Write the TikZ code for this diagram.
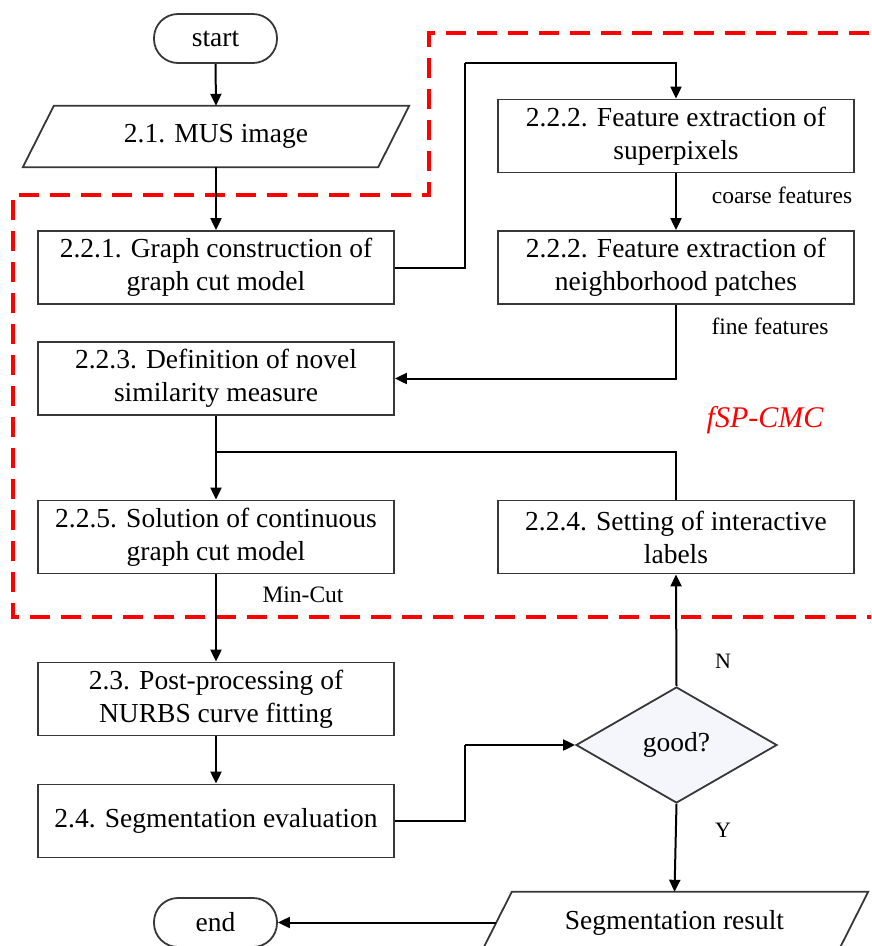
\documentclass[tikz,border=0pt]{standalone}
\usepackage{fontspec}
\setmainfont{Liberation Serif}
\usetikzlibrary{arrows.meta,shapes.geometric,calc}
\definecolor{boxgray}{RGB}{55,55,55}
\definecolor{dashred}{RGB}{255,0,0}
\definecolor{dfill}{RGB}{244,246,251}
\begin{document}
\begin{tikzpicture}[x=1pt,y=-1pt,
  mainfont/.style={font=\fontsize{27.5}{33}\selectfont},
  box/.style={draw=boxgray, line width=1.8pt, minimum width=356pt, minimum height=73pt, inner sep=0pt, align=center, mainfont},
  term/.style={draw=boxgray, line width=1.8pt, rounded corners=24pt, minimum width=123pt, minimum height=49pt, inner sep=0pt, mainfont},
  iobox/.style={minimum width=355pt, minimum height=61pt, inner sep=0pt, mainfont},
  para/.style={draw=boxgray, line width=1.8pt},
  lab/.style={font=\fontsize{23.5}{27}\selectfont, inner sep=0pt},
  conn/.style={line width=2pt},
  arr/.style={line width=2pt, -{Triangle[length=12pt,width=11pt]}},
  region/.style={draw=dashred, line width=3.2pt, dash pattern=on 20pt off 11pt}
]
\path[clip] (0,0) rectangle (871,946);

% red dashed region
\draw[region] (900,33) -- (429,33) -- (429,195) -- (13,195) -- (13,617) -- (900,617);

% nodes
\node[term] (start) at (215.5,38.5) {start};
\node[iobox] (mus) at (216,136.5) {\raisebox{-2pt}{2.1. MUS image}};
\draw[para] ([xshift=15.5pt]mus.north west) -- ([xshift=15.5pt]mus.north east) -- ([xshift=-15.5pt]mus.south east) -- ([xshift=-15.5pt]mus.south west) -- cycle;

\node[box] (b221) at (216,267.5) {2.2.1. Graph construction of\\graph cut model};
\node[box] (b222a) at (676,136) {2.2.2. Feature extraction of\\superpixels};
\node[box] (b222b) at (676,267.5) {2.2.2. Feature extraction of\\neighborhood patches};
\node[box] (b223) at (216,378.5) {2.2.3. Definition of novel\\similarity measure};
\node[box] (b225) at (216,537) {2.2.5. Solution of continuous\\graph cut model};
\node[box] (b224) at (676,537) {2.2.4. Setting of interactive\\labels};
\node[box] (b23) at (216,699) {2.3. Post-processing of\\NURBS curve fitting};
\node[box] (b24) at (216,821) {2.4. Segmentation evaluation};
\node[diamond, draw=boxgray, fill=dfill, line width=1.8pt, minimum width=201pt, minimum height=116pt, inner sep=0pt, mainfont] (good) at (676.5,745) {good?};
\node[iobox, minimum width=356pt] (seg) at (674.5,922.5) {Segmentation result};
\draw[para] ([xshift=15.5pt]seg.north west) -- ([xshift=15.5pt]seg.north east) -- ([xshift=-15.5pt]seg.south east) -- ([xshift=-15.5pt]seg.south west) -- cycle;
\node[term] (end) at (215.5,922.5) {end};

% labels
\node[lab] (lcoarse) at (782,195) {coarse features};
\node[lab] (lfine) at (770,326) {fine features};
\node[lab] (lmin) at (303,595) {Min-Cut};
\node[font=\fontsize{30}{34}\selectfont\itshape, text=dashred, inner sep=0pt] (lfsp) at (765,420) {fSP-CMC};
\node[lab, font=\fontsize{22}{26}\selectfont] (lN) at (723,661) {N};
\node[lab, font=\fontsize{22}{26}\selectfont] (lY) at (723,830) {Y};

% helper coordinates
\coordinate (c1) at (465,63);
\coordinate (j) at (216,452);
\coordinate (c2) at (465,745);

% connectors
\draw[arr] (start.south) -- (mus.north);
\draw[arr] (mus.south) -- (b221.north);
\draw[conn] (b221.east) -| (c1);
\draw[arr] (c1) -| (b222a.north);
\draw[arr] (b222a.south) -- (b222b.north);
\draw[arr] (b222b.south) |- (b223.east);
\draw[arr] (b223.south) -- (b225.north);
\draw[conn] (b224.north) |- (j);
\draw[arr] (b225.south) -- (b23.north);
\draw[arr] (b23.south) -- (b24.north);
\draw[conn] (b24.east) -| (c2);
\draw[arr] (c2) -- (good.west);
\draw[arr] (good.north) -- (b224.south);
\draw[arr] (good.south) -- (seg.north);
\draw[arr] (seg.west) -- (end.east);
\end{tikzpicture}
\end{document}
